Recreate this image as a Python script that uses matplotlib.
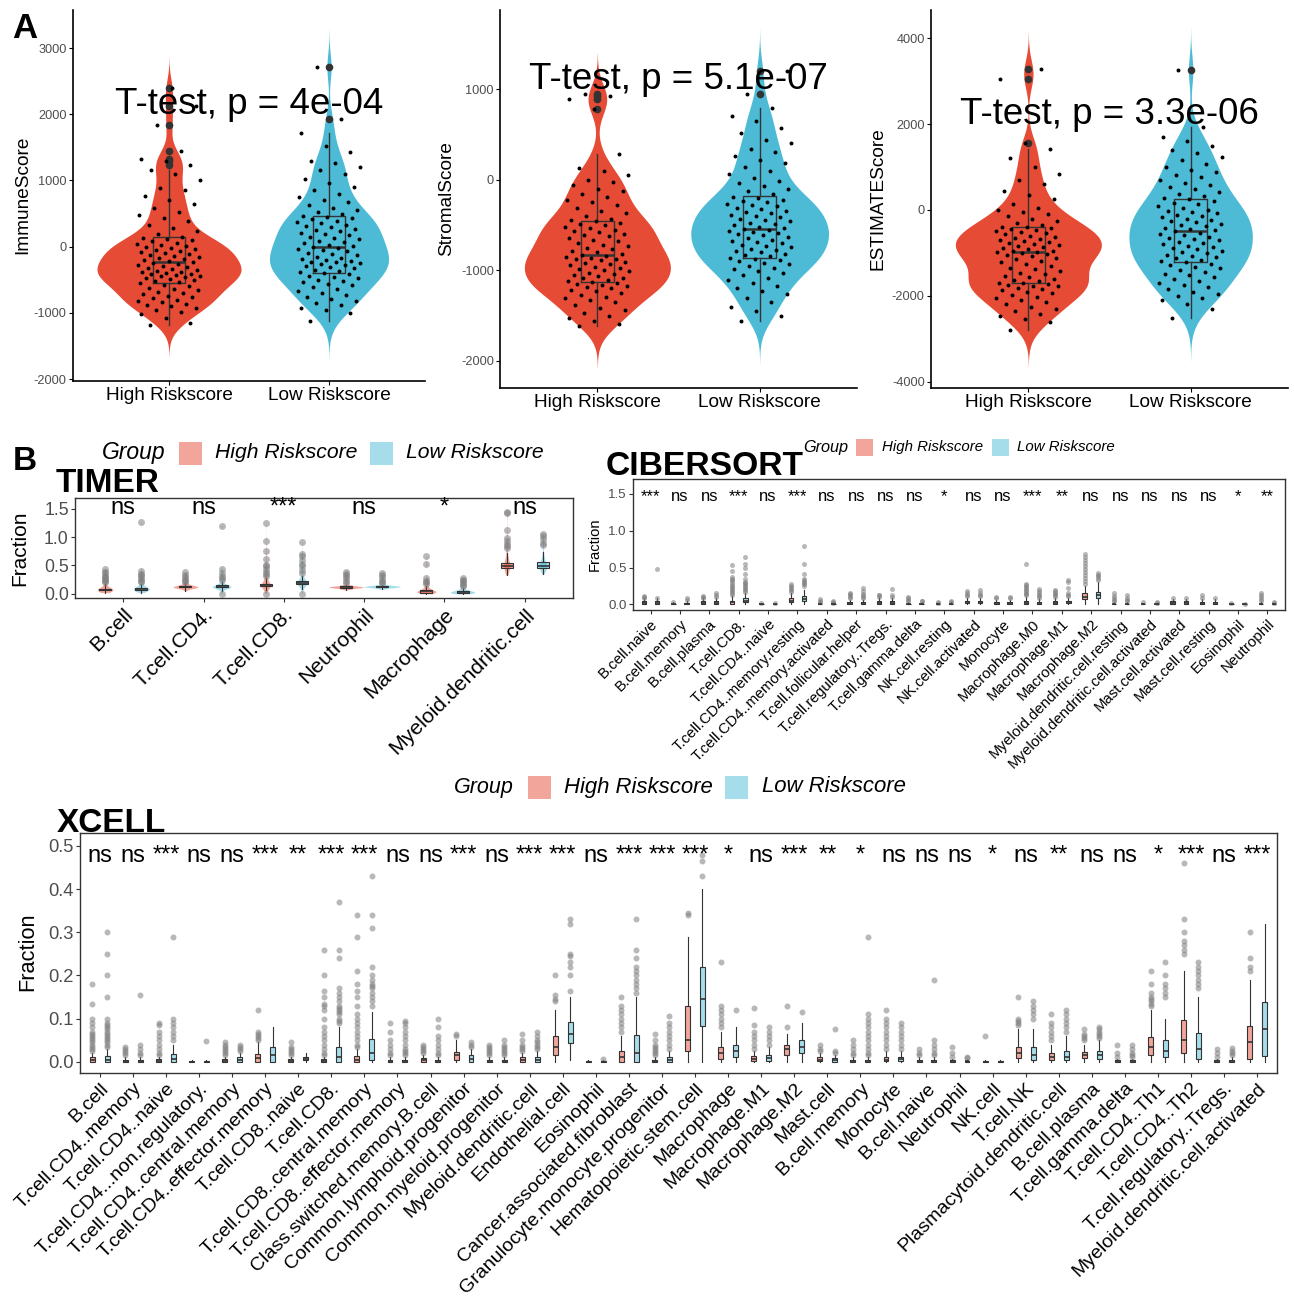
import numpy as np
import matplotlib
matplotlib.use('Agg')
import matplotlib.pyplot as plt
from matplotlib.patches import Rectangle
from matplotlib import cbook

plt.rcParams['font.family'] = ['Liberation Sans', 'DejaVu Sans']

W, H, DPI = 1294, 1307, 100

# ======================= DATA =======================
groups = ['High Riskscore', 'Low Riskscore']

# ---- Panel A : ESTIMATE scores (values read from the jittered points) ----
immune_high = [-1180, -1150, -1080, -1020, -990, -960, -930, -900, -880, -860, -840, -820, -800, -780, -760, -740,
               -720, -700, -680, -660, -640, -620, -600, -575,
               -555, -540, -525, -510, -495, -480, -465, -450, -440, -430, -420, -410, -400, -390, -380, -370,
               -355, -340, -325, -310, -295, -280, -265, -250,
               -235, -220, -205, -190, -175, -160, -145, -130, -115, -100, -85, -70, -55, -40, -25, -10,
               5, 20, 40, 60, 80, 95, 110, 125,
               150, 190, 230, 280, 330, 380, 430, 480, 520, 580, 650, 700, 760, 850, 880, 1000, 1100, 1160,
               1230, 1300, 1330, 1450, 1830, 2130, 2400]
immune_low = [-1130, -1000, -960, -920, -880, -850, -820, -790, -760, -730, -700, -670, -640, -610, -580, -560,
              -540, -520, -500, -480, -460, -440, -420, -405,
              -390, -370, -350, -330, -315, -300, -285, -270, -255, -240, -225, -210, -195, -180, -165, -150,
              -130, -110, -90, -70, -50, -35, -20, -5,
              10, 30, 50, 70, 90, 110, 130, 150, 170, 190, 210, 230, 250, 270, 290, 310, 330, 350, 370, 390,
              410, 430, 450, 465,
              490, 520, 550, 590, 630, 670, 710, 750, 800, 850, 900, 960, 1020, 1090, 1150, 1200, 1260, 1300,
              1430, 1520, 1720, 1930, 2710]
stromal_high = [-1612, -1590, -1560, -1530, -1500, -1470, -1440, -1410, -1380, -1350, -1330, -1310, -1290, -1270,
                -1250, -1230, -1215, -1200, -1185, -1170, -1160, -1150, -1140, -1130,
                -1120, -1105, -1090, -1080, -1065, -1050, -1040, -1025, -1010, -1000, -985, -970, -960, -945,
                -930, -915, -905, -890, -880, -870, -860, -850, -840, -835,
                -820, -800, -785, -770, -750, -735, -720, -700, -680, -660, -640, -625, -610, -595, -580, -565,
                -550, -535, -520, -505, -490, -475, -460, -450,
                -430, -400, -370, -340, -310, -280, -250, -220, -190, -160, -130, -100, -60, -30, 0, 50, 100,
                130, 282, 780, 890, 920, 940]
stromal_low = [-1560, -1500, -1450, -1400, -1350, -1300, -1260, -1230, -1200, -1170, -1140, -1110, -1080, -1050,
               -1030, -1010, -990, -970, -950, -930, -915, -900, -885, -872,
               -860, -845, -830, -815, -800, -790, -775, -760, -745, -730, -715, -700, -690, -675, -660, -645,
               -630, -615, -600, -590, -575, -565, -555, -548,
               -535, -520, -505, -490, -475, -460, -445, -430, -415, -400, -385, -370, -355, -340, -325, -310,
               -295, -280, -265, -250, -235, -220, -205, -190,
               -160, -130, -100, -70, -40, -10, 20, 60, 100, 140, 180, 220, 260, 300, 340, 400, 440, 520, 570,
               650, 700, 788, 941, 1198]
estimate_high = [-2790, -2600, -2540, -2480, -2420, -2360, -2300, -2250, -2200, -2150, -2100, -2060, -2020, -1980,
                 -1940, -1900, -1870, -1840, -1810, -1780, -1760, -1740, -1720, -1705,
                 -1690, -1660, -1630, -1600, -1570, -1540, -1500, -1460, -1420, -1380, -1340, -1300, -1260, -1220,
                 -1180, -1140, -1110, -1080, -1050, -1030, -1010, -990, -975, -965,
                 -945, -920, -895, -870, -845, -820, -795, -770, -745, -720, -695, -670, -645, -620, -595, -570,
                 -545, -520, -495, -470, -445, -420, -400, -388,
                 -350, -300, -250, -200, -150, -100, -50, 0, 50, 150, 250, 350, 450, 600, 700, 850, 1000, 1200,
                 1420, 1560, 3047, 3289]
estimate_low = [-2516, -2300, -2200, -2100, -2050, -2000, -1950, -1900, -1850, -1800, -1750, -1700, -1650, -1600,
                -1560, -1520, -1480, -1440, -1400, -1360, -1320, -1280, -1250, -1220,
                -1190, -1160, -1130, -1100, -1070, -1040, -1010, -980, -950, -920, -890, -860, -830, -800, -770,
                -740, -710, -680, -650, -620, -590, -560, -530, -500,
                -470, -440, -410, -380, -350, -320, -290, -260, -230, -200, -170, -140, -110, -80, -50, -20, 10,
                50, 90, 130, 170, 210, 250, 285,
                330, 380, 430, 480, 530, 580, 640, 700, 760, 820, 880, 940, 1000, 1080, 1160, 1240, 1320, 1400,
                1500, 1600, 1700, 1940, 3250]
score_names = ['ImmuneScore', 'StromalScore', 'ESTIMATEScore']
ttest_labels = ['T-test, p = 4e-04', 'T-test, p = 5.1e-07', 'T-test, p = 3.3e-06']
ttest_y = [2000, 1000, 2000]

# ---- Panel B : TIMER (core samples inside the whiskers + outliers) ----
timer_cells = ['B.cell', 'T.cell.CD4.', 'T.cell.CD8.', 'Neutrophil', 'Macrophage', 'Myeloid.dendritic.cell']
timer_sig = ['ns', 'ns', '***', 'ns', '*', 'ns']
timer_high_core = [
    [0.02, 0.03, 0.04, 0.04, 0.05, 0.05, 0.05, 0.06, 0.06, 0.06, 0.06, 0.07, 0.07, 0.07, 0.07, 0.07, 0.08, 0.08,
     0.08, 0.08, 0.09, 0.09, 0.10, 0.10, 0.11, 0.13, 0.15, 0.17],
    [0.05, 0.08, 0.09, 0.10, 0.10, 0.10, 0.11, 0.11, 0.11, 0.11, 0.12, 0.12, 0.12, 0.12, 0.12, 0.13, 0.13, 0.13,
     0.14, 0.14, 0.15, 0.15, 0.16, 0.17, 0.19],
    [0.06, 0.10, 0.11, 0.12, 0.12, 0.13, 0.13, 0.14, 0.14, 0.14, 0.15, 0.15, 0.15, 0.15, 0.16, 0.16, 0.17, 0.17,
     0.18, 0.19, 0.20, 0.22, 0.25, 0.28],
    [0.07, 0.08, 0.09, 0.10, 0.10, 0.10, 0.11, 0.11, 0.11, 0.11, 0.11, 0.12, 0.12, 0.12, 0.12, 0.12, 0.12, 0.13,
     0.13, 0.13, 0.14, 0.14, 0.15, 0.16],
    [0.00, 0.00, 0.01, 0.01, 0.02, 0.02, 0.02, 0.03, 0.03, 0.03, 0.03, 0.04, 0.04, 0.04, 0.04, 0.05, 0.05, 0.06,
     0.06, 0.07, 0.08, 0.09, 0.10, 0.12, 0.14],
    [0.33, 0.36, 0.39, 0.41, 0.43, 0.44, 0.45, 0.46, 0.47, 0.48, 0.48, 0.49, 0.49, 0.50, 0.51, 0.52, 0.53, 0.54,
     0.55, 0.57, 0.58, 0.60, 0.63, 0.67, 0.72],
]
timer_high_out = [[0.20, 0.22, 0.25, 0.27, 0.30, 0.32, 0.36, 0.38, 0.43],
                  [0.21, 0.23, 0.26, 0.29, 0.33, 0.38],
                  [0.00, 0.31, 0.34, 0.38, 0.43, 0.48, 0.51, 0.62, 0.75, 0.93, 1.24],
                  [0.19, 0.23, 0.27, 0.31, 0.35, 0.39],
                  [0.17, 0.20, 0.23, 0.27, 0.52, 0.66],
                  [0.81, 0.85, 0.88, 0.93, 0.98, 1.13, 1.42, 1.45]]
timer_low_core = [
    [0.02, 0.04, 0.05, 0.06, 0.06, 0.06, 0.07, 0.07, 0.07, 0.07, 0.08, 0.08, 0.08, 0.08, 0.09, 0.09, 0.09, 0.10,
     0.10, 0.11, 0.11, 0.12, 0.13, 0.15, 0.17],
    [0.04, 0.08, 0.09, 0.10, 0.10, 0.11, 0.11, 0.11, 0.12, 0.12, 0.12, 0.12, 0.13, 0.13, 0.13, 0.14, 0.14, 0.15,
     0.15, 0.16, 0.17, 0.19, 0.21],
    [0.08, 0.12, 0.14, 0.15, 0.16, 0.17, 0.17, 0.18, 0.18, 0.19, 0.19, 0.19, 0.20, 0.20, 0.21, 0.21, 0.22, 0.23,
     0.24, 0.26, 0.28, 0.31],
    [0.08, 0.09, 0.10, 0.11, 0.11, 0.11, 0.12, 0.12, 0.12, 0.12, 0.12, 0.12, 0.13, 0.13, 0.13, 0.13, 0.14, 0.14,
     0.14, 0.15, 0.15, 0.16],
    [0.00, 0.00, 0.00, 0.01, 0.01, 0.01, 0.02, 0.02, 0.02, 0.02, 0.03, 0.03, 0.03, 0.03, 0.04, 0.04, 0.04, 0.05,
     0.05, 0.06, 0.07, 0.08, 0.10],
    [0.35, 0.37, 0.40, 0.42, 0.43, 0.44, 0.45, 0.46, 0.47, 0.48, 0.49, 0.49, 0.50, 0.51, 0.52, 0.53, 0.54, 0.55,
     0.56, 0.58, 0.61, 0.64, 0.68, 0.73],
]
timer_low_out = [[0.20, 0.22, 0.26, 0.30, 0.33, 0.35, 0.40, 1.27],
                 [0.00, 0.24, 0.28, 0.32, 0.36, 0.43, 1.20],
                 [0.00, 0.36, 0.42, 0.48, 0.53, 0.60, 0.66, 0.70, 0.92],
                 [0.18, 0.21, 0.25, 0.29, 0.33, 0.37],
                 [0.13, 0.16, 0.19, 0.22, 0.25, 0.28],
                 [0.86, 0.90, 0.96, 1.01, 1.06]]

# ---- Panel B : CIBERSORT (box statistics + outliers) ----
cib_cells = ['B.cell.naive', 'B.cell.memory', 'B.cell.plasma', 'T.cell.CD8.', 'T.cell.CD4..naive',
             'T.cell.CD4..memory.resting', 'T.cell.CD4..memory.activated', 'T.cell.follicular.helper',
             'T.cell.regulatory..Tregs.', 'T.cell.gamma.delta', 'NK.cell.resting', 'NK.cell.activated',
             'Monocyte', 'Macrophage.M0', 'Macrophage.M1', 'Macrophage.M2', 'Myeloid.dendritic.cell.resting',
             'Myeloid.dendritic.cell.activated', 'Mast.cell.activated', 'Mast.cell.resting', 'Eosinophil',
             'Neutrophil']
cib_sig = ['***', 'ns', 'ns', '***', 'ns', '***', 'ns', 'ns', 'ns', 'ns', '*', 'ns', 'ns', '***', '**', 'ns',
           'ns', 'ns', 'ns', 'ns', '*', '**']
cib_high_q1 = [0.01, 0.00, 0.01, 0.01, 0.00, 0.03, 0.00, 0.01, 0.01, 0.00, 0.00, 0.02, 0.01, 0.01, 0.01, 0.07, 0.00, 0.00, 0.01, 0.00, 0.00, 0.00]
cib_high_med = [0.02, 0.00, 0.02, 0.03, 0.00, 0.05, 0.00, 0.02, 0.02, 0.005, 0.00, 0.03, 0.02, 0.02, 0.02, 0.10, 0.00, 0.00, 0.02, 0.01, 0.00, 0.00]
cib_high_q3 = [0.04, 0.01, 0.04, 0.05, 0.005, 0.08, 0.01, 0.03, 0.04, 0.01, 0.005, 0.05, 0.03, 0.05, 0.04, 0.15, 0.01, 0.01, 0.04, 0.03, 0.003, 0.01]
cib_high_lo = [0.00, 0.00, 0.00, 0.00, 0.00, 0.00, 0.00, 0.00, 0.00, 0.00, 0.00, 0.00, 0.00, 0.00, 0.00, 0.01, 0.00, 0.00, 0.00, 0.00, 0.00, 0.00]
cib_high_hi = [0.08, 0.025, 0.08, 0.11, 0.01, 0.16, 0.025, 0.06, 0.08, 0.025, 0.01, 0.09, 0.06, 0.10, 0.08, 0.25, 0.025, 0.02, 0.07, 0.07, 0.007, 0.025]
cib_high_out = [[0.09, 0.10, 0.11], [0.03], [0.09, 0.10, 0.11],
                [0.13, 0.15, 0.17, 0.19, 0.21, 0.23, 0.25, 0.27, 0.30, 0.33, 0.35, 0.37, 0.45, 0.53],
                [0.02], [0.17, 0.19, 0.21, 0.23, 0.25, 0.27], [0.03, 0.05, 0.07], [0.08, 0.10, 0.12, 0.14, 0.15],
                [0.10, 0.12, 0.13], [0.04, 0.06, 0.08, 0.10], [0.02, 0.03], [0.11, 0.13, 0.15, 0.18],
                [0.08, 0.10], [0.12, 0.14, 0.16, 0.18, 0.20, 0.22, 0.24, 0.26, 0.28, 0.55],
                [0.10, 0.12, 0.14, 0.16, 0.18, 0.20],
                [0.28, 0.32, 0.36, 0.40, 0.44, 0.48, 0.52, 0.56, 0.60, 0.64, 0.69],
                [0.04, 0.06, 0.08, 0.11, 0.15], [0.03], [0.08], [0.09, 0.12], [0.015], [0.04, 0.07, 0.10, 0.13, 0.16]]
cib_low_q1 = [0.01, 0.00, 0.01, 0.03, 0.00, 0.04, 0.00, 0.01, 0.01, 0.00, 0.00, 0.02, 0.01, 0.005, 0.02, 0.08, 0.00, 0.00, 0.01, 0.00, 0.00, 0.00]
cib_low_med = [0.02, 0.005, 0.02, 0.05, 0.00, 0.07, 0.00, 0.02, 0.02, 0.005, 0.00, 0.03, 0.02, 0.01, 0.03, 0.12, 0.00, 0.00, 0.02, 0.01, 0.00, 0.00]
cib_low_q3 = [0.04, 0.02, 0.04, 0.08, 0.005, 0.11, 0.005, 0.03, 0.04, 0.01, 0.01, 0.05, 0.03, 0.03, 0.05, 0.17, 0.01, 0.005, 0.04, 0.03, 0.003, 0.005]
cib_low_lo = [0.00, 0.00, 0.00, 0.00, 0.00, 0.00, 0.00, 0.00, 0.00, 0.00, 0.00, 0.00, 0.00, 0.00, 0.00, 0.01, 0.00, 0.00, 0.00, 0.00, 0.00, 0.00]
cib_low_hi = [0.08, 0.05, 0.08, 0.15, 0.01, 0.20, 0.012, 0.06, 0.08, 0.025, 0.025, 0.09, 0.06, 0.07, 0.09, 0.30, 0.025, 0.012, 0.07, 0.07, 0.007, 0.012]
cib_low_out = [[0.09, 0.48], [0.06, 0.08], [0.10, 0.12, 0.16],
               [0.17, 0.19, 0.21, 0.23, 0.25, 0.27, 0.29, 0.31, 0.35, 0.41, 0.49, 0.55, 0.64],
               [0.02], [0.25, 0.27, 0.29, 0.31, 0.33, 0.35, 0.41, 0.55, 0.79], [0.02, 0.03, 0.045],
               [0.08, 0.10, 0.12, 0.14, 0.18, 0.22], [0.10, 0.12, 0.21], [0.04, 0.05], [0.035, 0.04],
               [0.11, 0.13, 0.16, 0.20], [0.08, 0.10], [0.09, 0.11, 0.13, 0.15, 0.18, 0.21],
               [0.11, 0.13, 0.16, 0.22, 0.31, 0.33], [0.33, 0.36, 0.38, 0.40, 0.42], [0.04, 0.06, 0.09, 0.13],
               [0.02, 0.03], [0.09], [0.08], [0.01], [0.02, 0.03]]

# ---- Panel B : XCELL (box statistics + outliers) ----
xc_cells = ['B.cell', 'T.cell.CD4..memory', 'T.cell.CD4..naive', 'T.cell.CD4...non.regulatory.',
            'T.cell.CD4..central.memory', 'T.cell.CD4..effector.memory', 'T.cell.CD8..naive', 'T.cell.CD8.',
            'T.cell.CD8..central.memory', 'T.cell.CD8..effector.memory', 'Class.switched.memory.B.cell',
            'Common.lymphoid.progenitor', 'Common.myeloid.progenitor', 'Myeloid.dendritic.cell',
            'Endothelial.cell', 'Eosinophil', 'Cancer.associated.fibroblast', 'Granulocyte.monocyte.progenitor',
            'Hematopoietic.stem.cell', 'Macrophage', 'Macrophage.M1', 'Macrophage.M2', 'Mast.cell',
            'B.cell.memory', 'Monocyte', 'B.cell.naive', 'Neutrophil', 'NK.cell', 'T.cell.NK',
            'Plasmacytoid.dendritic.cell', 'B.cell.plasma', 'T.cell.gamma.delta', 'T.cell.CD4..Th1',
            'T.cell.CD4..Th2', 'T.cell.regulatory..Tregs.', 'Myeloid.dendritic.cell.activated']
xc_sig = ['ns', 'ns', '***', 'ns', 'ns', '***', '**', '***', '***', 'ns', 'ns', '***', 'ns', '***', '***', 'ns',
          '***', '***', '***', '*', 'ns', '***', '**', '*', 'ns', 'ns', 'ns', '*', 'ns', '**', 'ns', 'ns', '*',
          '***', 'ns', '***']
xc_high_q1 = [0, 0, 0, 0, 0, 0, 0, 0, 0, 0, 0, .004, 0, 0, .015, 0, 0, 0, .025, .006, .002, .016, .002, 0, .001, 0, 0, 0, .008, .005, .008, 0, .016, .02, 0, .006]
xc_high_med = [.004, .002, .002, 0, .002, .008, .002, .002, .005, .002, .003, .015, .002, .004, .035, 0, .01, .002, .05, .02, .007, .03, .005, .002, .005, .002, .001, 0, .02, .012, .015, .001, .035, .05, .001, .045]
xc_high_q3 = [.01, .005, .006, .002, .006, .018, .006, .006, .013, .005, .008, .023, .005, .01, .06, .002, .025, .005, .13, .034, .014, .04, .01, .005, .012, .005, .003, .002, .034, .02, .022, .003, .058, .097, .003, .084]
xc_high_lo = [0, 0, 0, 0, 0, 0, 0, 0, 0, 0, 0, 0, 0, 0, 0, 0, 0, 0, 0, 0, 0, 0, 0, 0, 0, 0, 0, 0, 0, 0, 0, 0, 0, 0, 0, 0]
xc_high_hi = [.02, .01, .012, .004, .012, .045, .012, .012, .03, .01, .016, .05, .01, .02, .12, .003, .06, .012, .29, .07, .025, .065, .02, .01, .025, .01, .006, .004, .075, .04, .04, .006, .12, .21, .006, .19]
xc_high_out = [
    [.025, .03, .035, .04, .045, .05, .055, .06, .065, .07, .08, .09, .1, .133, .18],
    [.015, .02, .025, .03, .035], [.015, .02, .03, .04, .05, .06, .07, .085, .09], [],
    [.015, .02, .025, .03, .035, .04, .045], [.05, .055, .06, .065, .07, .12], [.015, .02, .025, .03, .035, .045],
    [.015, .02, .03, .04, .05, .06, .07, .08, .1, .12, .13, .135, .15, .165, .2, .26],
    [.035, .04, .05, .06, .07, .08, .09, .1, .11, .13, .15, .165, .18, .21, .29, .34],
    [.015, .02, .03, .04, .05, .07, .09], [.02, .025, .03, .035, .04], [.06, .065],
    [.015, .02, .025, .03, .035, .04], [.025, .03, .035, .04, .05, .065], [.14, .145, .155, .2], [],
    [.07, .08, .09, .1, .11, .12, .13, .15], [.015, .02, .025, .03, .035, .04, .05, .065], [.34, .345],
    [.08, .09, .1, .11, .12, .13, .23], [.03, .04, .05, .06, .07, .085, .125], [.08, .13], [.025, .03, .04],
    [.015, .02, .03, .04, .05], [.03, .04, .05, .06, .07, .08, .09, .1, .12], [.015, .02, .03],
    [.01, .02, .035], [.06], [.085, .09, .095, .1, .15], [.05, .06, .07, .08, .09, .11],
    [.05, .055, .06, .065, .075], [.01, .02, .04], [.13, .135, .14, .145, .15, .16, .18, .21],
    [.25, .26, .27, .28, .3, .33, .46], [.01, .02, .03], [.21, .22, .24, .30]]
xc_low_q1 = [0, 0, 0, 0, 0, 0, .003, 0, .004, 0, 0, 0, 0, 0, .044, 0, 0, 0, .083, .01, .002, .02, 0, 0, .002, 0, 0, 0, .003, .005, .006, 0, .01, .006, 0, .014]
xc_low_med = [.005, .002, .006, 0, .004, .015, .006, .01, .02, .002, .002, .006, .002, .005, .065, 0, .02, .004, .145, .025, .008, .035, .003, .002, .006, .002, .001, 0, .015, .012, .015, .001, .025, .03, .002, .077]
xc_low_q3 = [.013, .005, .017, .002, .01, .035, .01, .035, .052, .005, .005, .015, .005, .012, .093, .002, .062, .012, .22, .038, .016, .05, .008, .005, .012, .005, .002, .002, .035, .026, .024, .003, .05, .066, .005, .138]
xc_low_lo = [0, 0, 0, 0, 0, 0, 0, 0, 0, 0, 0, 0, 0, 0, .005, 0, 0, 0, 0, 0, 0, 0, 0, 0, 0, 0, 0, 0, 0, 0, 0, 0, 0, 0, 0, 0]
xc_low_hi = [.03, .01, .04, .004, .02, .08, .02, .08, .115, .012, .012, .03, .012, .025, .15, .003, .15, .025, .40, .08, .035, .09, .015, .01, .025, .01, .004, .003, .077, .06, .05, .006, .1, .15, .01, .32]
xc_low_out = [
    [.035, .04, .045, .05, .055, .06, .065, .07, .075, .08, .085, .09, .1, .15, .2, .25, .3],
    [.015, .02, .03, .04, .155], [.05, .06, .07, .08, .09, .1, .29], [.048], [.025, .03, .035, .04], [], [],
    [.09, .095, .1, .11, .115, .12, .125, .13, .14, .15, .16, .17, .24, .26, .37],
    [.13, .14, .15, .16, .17, .175, .18, .19, .2, .22, .31, .34, .43],
    [.015, .02, .025, .03, .04, .05, .06, .07, .08, .09, .095], [.015, .02, .03, .04, .05, .06, .08, .1],
    [.035, .04, .045], [.015, .02, .025, .03, .035, .04, .05], [.03, .035, .04, .045, .05, .06, .07],
    [.165, .2, .22, .23, .245, .25, .32, .33], [.006], [.16, .17, .18, .19, .2, .21, .22, .24, .26, .33],
    [.03, .04, .05, .06, .07, .08, .09, .105], [.43, .465, .48], [.12], [.04, .05, .06, .07, .08], [.115],
    [.02, .025, .075], [.015, .02, .03, .04, .05, .06, .07, .08, .09, .1, .11, .29],
    [.03, .04, .05, .06, .07, .08, .09], [.015, .02, .03, .04, .05, .19], [.008, .012], [],
    [.1, .11, .12, .13, .14], [.07, .08, .09, .1, .11, .12], [.055, .06, .065, .07, .075, .08],
    [.01, .015, .02, .03, .04], [.15, .16, .17, .18, .2, .23], [.17, .18, .19, .2, .21, .22, .23],
    [.015, .02, .025, .033], []]

# ======================= STYLE =======================
RED, BLUE = '#E64B35', '#4DBBD5'
PINK_L, BLUE_L = '#F2A59A', '#A6DDEA'
DARK = '#333333'
GREY_TXT = '#4D4D4D'
BW_ADJUST = 0.85

fig = plt.figure(figsize=(W / DPI, H / DPI), dpi=DPI)


def prect(l, t, r, b):
    return [l / W, 1 - b / H, (r - l) / W, (b - t) / H]


def ftext(x, y, s, **kw):
    return fig.text(x / W, 1 - y / H, s, **kw)


def fkey(l, t, r, b, color):
    fig.add_artist(Rectangle((l / W, 1 - b / H), (r - l) / W, (b - t) / H, transform=fig.transFigure,
                             facecolor=color, edgecolor='none'))


def nrd0(v):
    v = np.asarray(v, float)
    sd = v.std(ddof=1)
    q75, q25 = np.percentile(v, [75, 25])
    lo = min(sd, (q75 - q25) / 1.34) if q75 > q25 else sd
    if lo <= 0:
        lo = abs(v[0]) if v[0] != 0 else 1.0
    return 0.9 * lo * len(v) ** (-0.2)


def gkde(v, grid, bw):
    v = np.asarray(v, float)
    z = (grid[:, None] - v[None, :]) / bw
    return np.exp(-0.5 * z ** 2).sum(1) / (len(v) * bw * np.sqrt(2 * np.pi))


# ======================= PANEL A =======================
A_data = [(immune_high, immune_low), (stromal_high, stromal_low), (estimate_high, estimate_low)]
A_rects = [(73, 10, 425, 381), (500, 10, 857, 388), (931, 10, 1288, 388)]
A_ylims = [(-2030, 3574), (-2298, 1872), (-4147, 4659)]
A_yticks = [[-2000, -1000, 0, 1000, 2000, 3000], [-2000, -1000, 0, 1000], [-4000, -2000, 0, 2000, 4000]]
A_ylab_xy = [(22.5, 195), (446.5, 198.5), (878, 199)]

for k in range(3):
    ax = fig.add_axes(prect(*A_rects[k]))
    data = [np.asarray(d, float) for d in A_data[k]]
    grids, dens = [], []
    for v in data:
        bw = nrd0(v) * BW_ADJUST
        g = np.linspace(v.min() - 3 * bw, v.max() + 3 * bw, 500)
        grids.append(g)
        dens.append(gkde(v, g, bw))
    m = max(d.max() for d in dens)
    for i, (g, d, c) in enumerate(zip(grids, dens, [RED, BLUE])):
        hw = d / m * 0.45
        ax.fill_betweenx(g, i + 1 - hw, i + 1 + hw, color=c, lw=0, zorder=1)
    ax.boxplot(data, positions=[1, 2], widths=0.2, showcaps=False, manage_ticks=False, whis=1.5,
               boxprops=dict(color=DARK, lw=1.0), whiskerprops=dict(color=DARK, lw=1.0),
               medianprops=dict(color=DARK, lw=1.8),
               flierprops=dict(marker='o', markersize=5.5, markerfacecolor=DARK, markeredgecolor='none'),
               zorder=2)
    for i, v in enumerate(data):
        n = len(v)
        off = ((np.arange(n) * 0.6180339887 + 0.21) % 1 - 0.5) * 0.4
        ax.scatter(i + 1 + off, v, s=8, c='black', lw=0, zorder=4)
    ax.text(1.5, ttest_y[k], ttest_labels[k], ha='center', va='baseline', fontsize=26.5, zorder=5)
    ax.set_xlim(0.4, 2.6)
    ax.set_ylim(*A_ylims[k])
    ax.set_yticks(A_yticks[k])
    ax.set_yticklabels([str(t) for t in A_yticks[k]])
    ax.set_xticks([1, 2])
    ax.set_xticklabels(groups)
    for s in ['top', 'right']:
        ax.spines[s].set_visible(False)
    for s in ['left', 'bottom']:
        ax.spines[s].set_linewidth(1.2)
        ax.spines[s].set_color('black')
    ax.tick_params(axis='y', labelsize=9.2, labelcolor=GREY_TXT, length=3, width=0.8, pad=1.5, color='black')
    ax.tick_params(axis='x', labelsize=13.7, labelcolor='black', length=3, width=0.8, pad=1.5, color='black')
    ftext(*A_ylab_xy[k], score_names[k], rotation=90, ha='center', va='center', fontsize=13.7)

ftext(12, 38, 'A', fontsize=25, fontweight='bold', va='baseline', ha='left')
ftext(13, 470, 'B', fontsize=24, fontweight='bold', va='baseline', ha='left')


# ======================= PANEL B helpers =======================
def style_box_axes(ax, ncat, ylim, yticks, tsize, lsize, labels):
    ax.set_xlim(0.4, ncat + 0.6)
    ax.set_ylim(*ylim)
    ax.set_yticks(yticks)
    ax.set_yticklabels(['%.1f' % t for t in yticks])
    ax.set_xticks(np.arange(1, ncat + 1))
    ax.set_xticklabels(labels, rotation=45, ha='right', va='top', rotation_mode='anchor')
    for s in ax.spines.values():
        s.set_color(DARK)
        s.set_linewidth(1.0)
    ax.tick_params(axis='y', labelsize=tsize, labelcolor=GREY_TXT, length=3, width=0.8, pad=1.5, color=DARK)
    ax.tick_params(axis='x', labelsize=lsize, labelcolor='black', length=3, width=0.8, pad=2, color=DARK)


def draw_bxp(ax, stats, positions, color, fsize):
    ax.bxp(stats, positions=positions, widths=0.15, patch_artist=True, showcaps=False, manage_ticks=False,
           boxprops=dict(facecolor=color, edgecolor=DARK, lw=0.8),
           whiskerprops=dict(color=DARK, lw=0.8), medianprops=dict(color=DARK, lw=1.2),
           flierprops=dict(marker='o', markersize=fsize, markerfacecolor='#7f7f7f', markeredgecolor='none',
                           alpha=0.55), zorder=3)


def make_stats(q1, med, q3, lo, hi, out):
    return [dict(q1=a, med=b, q3=c, whislo=d, whishi=e, fliers=f)
            for a, b, c, d, e, f in zip(q1, med, q3, lo, hi, out)]


def core_stats(cores, outs):
    st = cbook.boxplot_stats([np.asarray(c, float) for c in cores], whis=(0, 100))
    for s, o in zip(st, outs):
        s['fliers'] = np.asarray(o, float)
    return st


def legend_row(y, gx, k1, l1x, k2, l2x, ks, gsize, lsize):
    ftext(gx, y, 'Group', fontsize=gsize, style='italic', ha='left', va='center')
    fkey(k1, y - ks / 2, k1 + ks, y + ks / 2, PINK_L)
    ftext(l1x, y, groups[0], fontsize=lsize, style='italic', ha='left', va='center')
    fkey(k2, y - ks / 2, k2 + ks, y + ks / 2, BLUE_L)
    ftext(l2x, y, groups[1], fontsize=lsize, style='italic', ha='left', va='center')


# ======================= TIMER =======================
ax = fig.add_axes(prect(75, 498, 573, 598))
n = len(timer_cells)
pos_h = np.arange(1, n + 1) - 0.225
pos_l = np.arange(1, n + 1) + 0.225
vd = []
for i in range(n):
    for c, o in ((timer_high_core[i], timer_high_out[i]), (timer_low_core[i], timer_low_out[i])):
        v = np.asarray(list(c) + list(o), float)
        bw = nrd0(v)
        g = np.linspace(v.min(), v.max(), 400)
        vd.append((g, gkde(v, g, bw)))
m = max(d.max() for g, d in vd)
for j, (g, d) in enumerate(vd):
    i, grp = divmod(j, 2)
    x0 = (pos_h if grp == 0 else pos_l)[i]
    hw = d / m * 0.225
    ax.fill_betweenx(g, x0 - hw, x0 + hw, color=RED if grp == 0 else BLUE, alpha=0.5, lw=0, zorder=1)
draw_bxp(ax, core_stats(timer_high_core, timer_high_out), pos_h, (0.902, 0.294, 0.208, 0.5), 5.0)
draw_bxp(ax, core_stats(timer_low_core, timer_low_out), pos_l, (0.302, 0.733, 0.835, 0.5), 5.0)
for i, s in enumerate(timer_sig):
    ax.text(i + 1, 1.41, s, ha='center', va='baseline', fontsize=17, zorder=5)
style_box_axes(ax, n, (-0.076, 1.689), [0.0, 0.5, 1.0, 1.5], 12.7, 15.3, timer_cells)
ftext(20, 548, 'Fraction', rotation=90, ha='center', va='center', fontsize=15)
ftext(56, 492, 'TIMER', fontsize=24, fontweight='bold', ha='left', va='baseline')
legend_row(453, 102, 179, 215, 370, 406, 23, 16.5, 15.2)

# ======================= CIBERSORT =======================
ax = fig.add_axes(prect(633, 479, 1285, 610))
n = len(cib_cells)
draw_bxp(ax, make_stats(cib_high_q1, cib_high_med, cib_high_q3, cib_high_lo, cib_high_hi, cib_high_out),
         np.arange(1, n + 1) - 0.225, PINK_L, 3.6)
draw_bxp(ax, make_stats(cib_low_q1, cib_low_med, cib_low_q3, cib_low_lo, cib_low_hi, cib_low_out),
         np.arange(1, n + 1) + 0.225, BLUE_L, 3.6)
for i, s in enumerate(cib_sig):
    ax.text(i + 1, 1.40, s, ha='center', va='baseline', fontsize=12, zorder=5)
style_box_axes(ax, n, (-0.077, 1.702), [0.0, 0.5, 1.0, 1.5], 9.5, 10.8, cib_cells)
ftext(595, 544, 'Fraction', rotation=90, ha='center', va='center', fontsize=10.6)
ftext(606, 475, 'CIBERSORT', fontsize=24.2, fontweight='bold', ha='left', va='baseline')
legend_row(447, 803, 856, 882, 992, 1017, 17, 11.7, 10.8)

# ======================= XCELL =======================
ax = fig.add_axes(prect(80, 833, 1277, 1073))
n = len(xc_cells)
draw_bxp(ax, make_stats(xc_high_q1, xc_high_med, xc_high_q3, xc_high_lo, xc_high_hi, xc_high_out),
         np.arange(1, n + 1) - 0.225, PINK_L, 4.3)
draw_bxp(ax, make_stats(xc_low_q1, xc_low_med, xc_low_q3, xc_low_lo, xc_low_hi, xc_low_out),
         np.arange(1, n + 1) + 0.225, BLUE_L, 4.3)
for i, s in enumerate(xc_sig):
    ax.text(i + 1, 0.463, s, ha='center', va='baseline', fontsize=17, zorder=5)
style_box_axes(ax, n, (-0.026, 0.530), [0.0, 0.1, 0.2, 0.3, 0.4, 0.5], 13.2, 14, xc_cells)
ftext(27.5, 952, 'Fraction', rotation=90, ha='center', va='center', fontsize=15.7)
ftext(57, 832, 'XCELL', fontsize=24, fontweight='bold', ha='left', va='baseline')
legend_row(787, 454, 528, 564, 725, 762, 23, 15.5, 15.9)

fig.savefig('out.png', dpi=DPI)
